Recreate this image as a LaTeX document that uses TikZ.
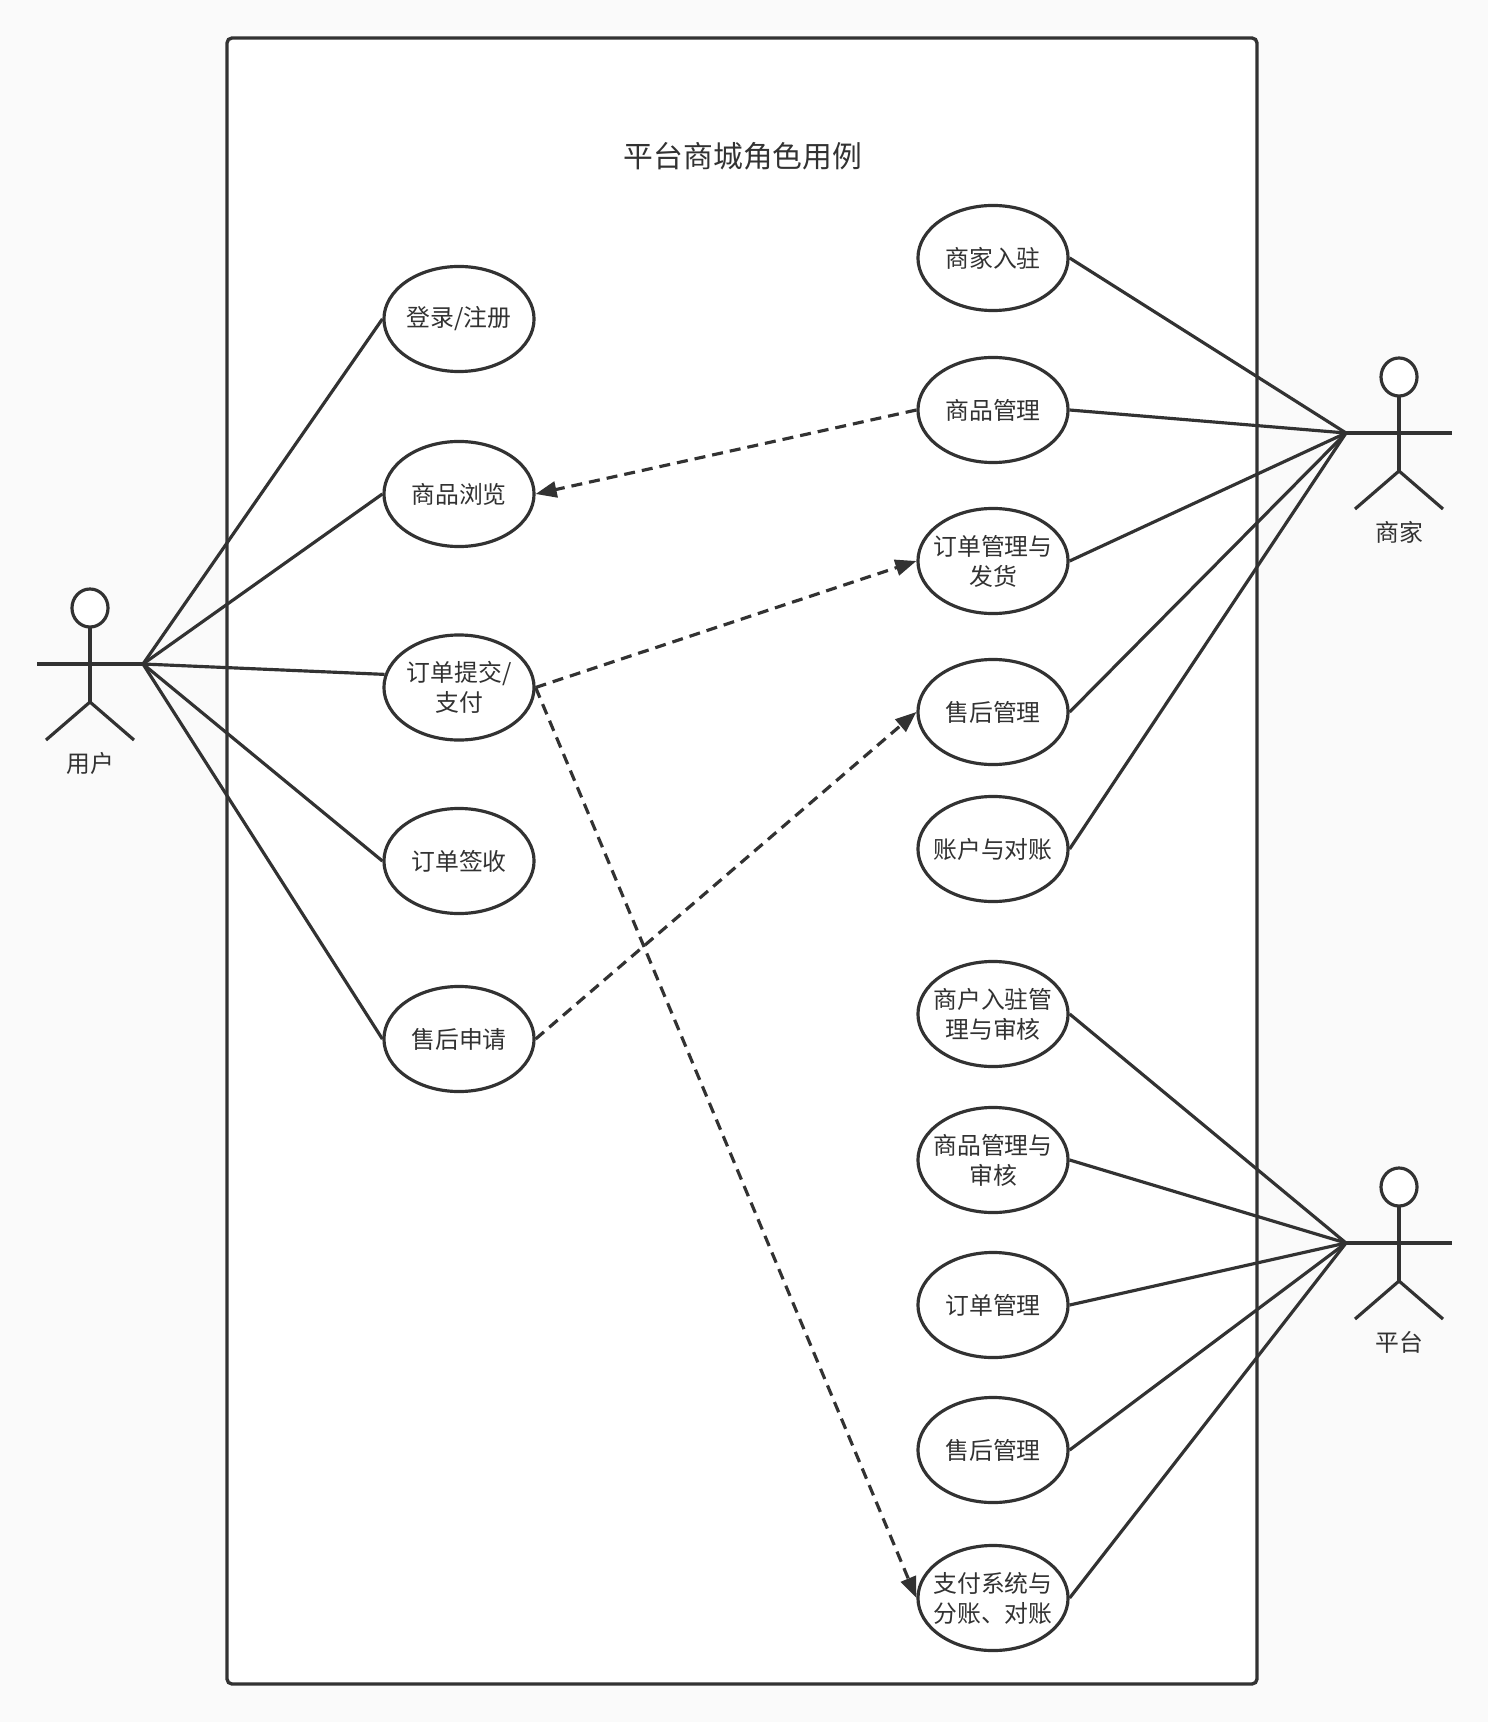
\documentclass[tikz,border=0pt]{standalone}
\usepackage{fontspec}
\setmainfont{Noto Sans CJK SC}
\usetikzlibrary{arrows.meta,shapes.geometric}
\definecolor{cInk}{HTML}{323232}
\definecolor{cPage}{HTML}{FAFAFA}
\tikzset{
    usecase/.style={draw=cInk,ellipse,line width=0.9pt,fill=white,inner sep=0pt,inner xsep=-3pt,
        minimum width=1.5cm,minimum height=1.05cm,align=center,text=cInk,
        font=\fontsize{6.78pt}{8.5pt}\selectfont},
    head/.style={draw=cInk,ellipse,line width=0.9pt,fill=white,inner sep=0pt,
        minimum width=0.36cm,minimum height=0.38cm},
    limb/.style={draw=cInk,line width=0.9pt},
    assoc/.style={draw=cInk,line width=0.9pt},
    dep/.style={draw=cInk,line width=0.9pt,dash pattern=on 0.11cm off 0.07cm,
        -{Triangle[length=0.21cm,width=0.16cm]}},
    caption/.style={text=cInk,inner sep=0pt,font=\fontsize{6.78pt}{8.5pt}\selectfont}
}

\begin{document}
\begin{tikzpicture}[x=0.01cm,y=-0.01cm]
\coordinate (cPageTL) at (0,0);
\coordinate (cPageBR) at (1488,1722);
\coordinate (cBoxTL) at (227,38);
\coordinate (cBoxBR) at (1257,1684);

\fill[cPage] (cPageTL) rectangle (cPageBR);
\useasboundingbox (cPageTL) rectangle (cPageBR);
\draw[cInk,line width=0.95pt,fill=white,rounded corners=0.05cm] (cBoxTL) rectangle (cBoxBR);

\node[caption,font=\fontsize{8.47pt}{10pt}\selectfont] (nTitle) at (743,156) {平台商城角色用例};

% the three actors
\foreach \v/\x/\y/\t in 
{   User/90/608/用户,
    Shop/1399/377/商家,
    Plat/1399/1187/平台%
}
{
    \begin{scope}[shift={(\x,\y)}]
    \coordinate (cNeck\v) at (0, 19);
    \coordinate (cHip\v) at (0, 94);
    \coordinate (cArmL\v) at (-53, 56);
    \coordinate (cArmR\v) at (53, 56);
    \coordinate (cFootL\v) at (-44, 132);
    \coordinate (cFootR\v) at (44, 132);
    \draw[limb] (cNeck\v) -- (cHip\v);
    \draw[limb] (cArmL\v) -- (cArmR\v);
    \draw[limb] (cFootL\v) -- (cHip\v) -- (cFootR\v);
    \node[head] (nHead\v) at (0,0) {};
    \node[caption] (nLabel\v) at (0, 155) {\t};
    \end{scope}
};

% use cases
\foreach \v/\x/\y/\t in 
{   uLogin/459/319/{登录/注册},
    uBrowse/459/494/商品浏览,
    uOrder/459/687.5/{订单提交/\\支付},
    uSign/459/861/订单签收,
    uAfter/459/1039/售后申请,
    sEnter/993/258/商家入驻,
    sGoods/993/410/商品管理,
    sOrder/993/561/订单管理与\\发货,
    sAfter/993/712/售后管理,
    sAccount/993/849/账户与对账,
    pEnter/993/1014/商户入驻管\\理与审核,
    pGoods/993/1160/商品管理与\\审核,
    pOrder/993/1305/订单管理,
    pAfter/993/1450/售后管理,
    pPay/993/1598/支付系统与\\分账、对账%
}
{
    \node[usecase] (\v) at (\x,\y) {\t};
};

% associations
\foreach \u in {uLogin.west,uBrowse.west,uOrder.170,uSign.west,uAfter.west}
{
    \draw[assoc] (cArmRUser) -- (\u);
};
\foreach \u in {sEnter,sGoods,sOrder,sAfter,sAccount}
{
    \draw[assoc] (\u.east) -- (cArmLShop);
};
\foreach \u in {pEnter,pGoods,pOrder,pAfter,pPay}
{
    \draw[assoc] (\u.east) -- (cArmLPlat);
};

% dependencies
\foreach \a/\b in 
{   sGoods/uBrowse%
}
{
    \draw[dep] (\a.west) -- (\b.east);
};
\foreach \a/\b in 
{   uOrder/sOrder,
    uOrder/pPay,
    uAfter/sAfter%
}
{
    \draw[dep] (\a.east) -- (\b.west);
};

\end{tikzpicture}
\end{document}
